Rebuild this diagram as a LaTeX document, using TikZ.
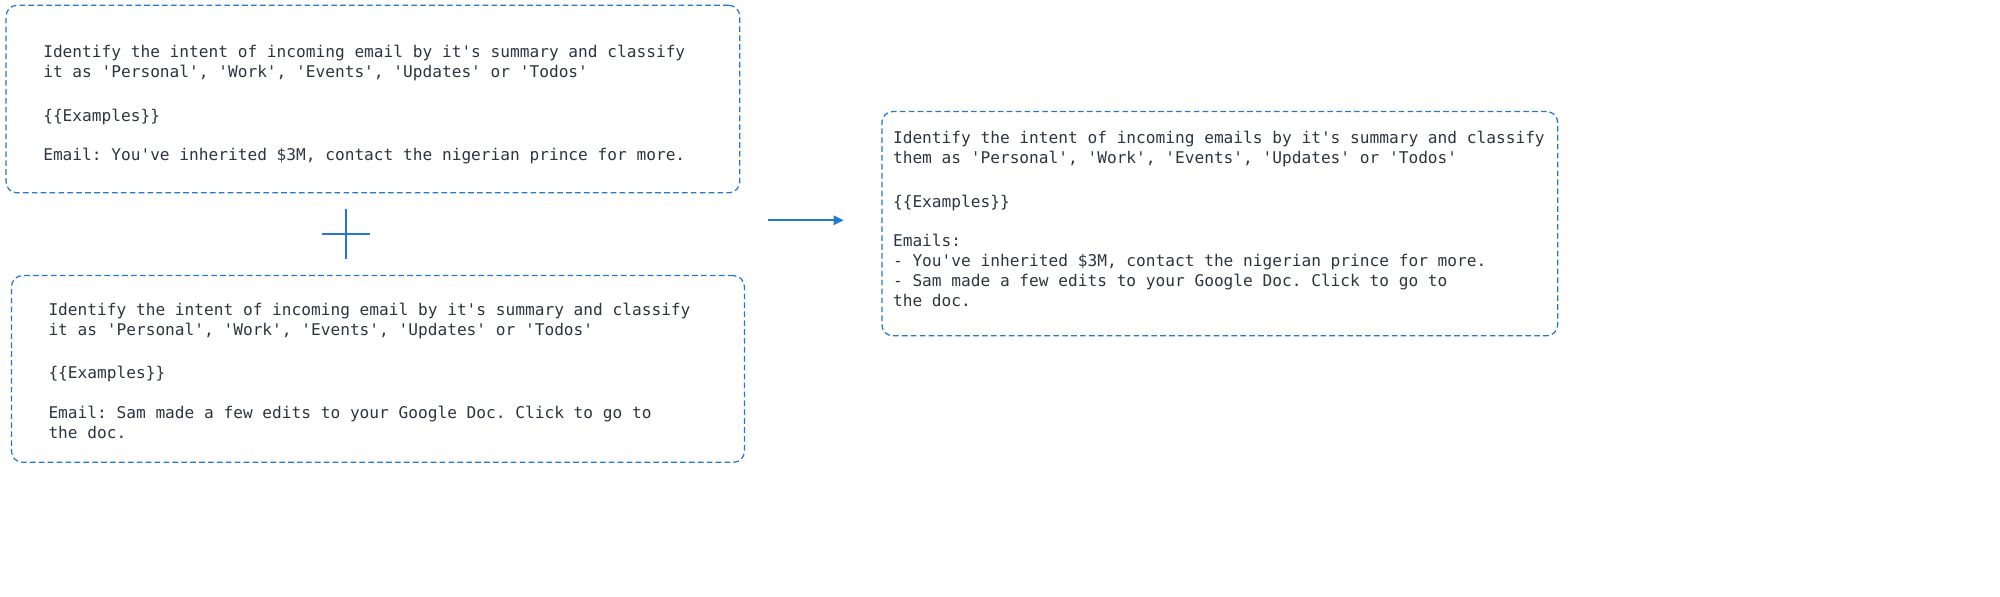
\documentclass[tikz,border=0pt]{standalone}
\usepackage{fontspec}
\setmonofont{DejaVu Sans Mono}
\usetikzlibrary{arrows.meta}
\definecolor{dblue}{RGB}{36,120,206}
\definecolor{txt}{RGB}{46,52,64}
\tikzset{
  box/.style={draw=dblue, line width=0.8pt, dash pattern=on 3.6pt off 2.1pt, rounded corners=7pt, inner sep=0pt, anchor=north west},
  ln/.style={anchor=base west, inner sep=0pt, text=txt, font=\ttfamily\fontsize{10.34}{12.75}\selectfont},
  conn/.style={draw=dblue, line width=1.2pt},
}
\begin{document}
\begin{tikzpicture}[x=0.5pt,y=-0.5pt]
\useasboundingbox (0,0) rectangle (2560,764);
% boxes
\node[box, minimum width=469.5pt, minimum height=120pt] (b1) at (7,6) {};
\node[box, minimum width=469pt, minimum height=119.5pt] (b2) at (14,352) {};
\node[box, minimum width=432.5pt, minimum height=143.5pt] (b3) at (1128,142) {};
% box 1 text
\node[ln] (a1) at (55,73.3) {Identify the intent of incoming email by it's summary and classify};
\node[ln] (a2) at (55,99) {it as 'Personal', 'Work', 'Events', 'Updates' or 'Todos'};
\node[ln] (a3) at (55,155) {\{\{Examples\}\}};
\node[ln] (a4) at (55,205) {Email: You've inherited \$3M, contact the nigerian prince for more.};
% box 2 text
\node[ln] (c1) at (61.7,404) {Identify the intent of incoming email by it's summary and classify};
\node[ln] (c2) at (61.7,429.5) {it as 'Personal', 'Work', 'Events', 'Updates' or 'Todos'};
\node[ln] (c3) at (61.7,485) {\{\{Examples\}\}};
\node[ln] (c4) at (61.7,536) {Email: Sam made a few edits to your Google Doc. Click to go to};
\node[ln] (c5) at (61.7,561) {the doc.};
% box 3 text
\node[ln] (d1) at (1142.7,184) {Identify the intent of incoming emails by it's summary and classify};
\node[ln] (d2) at (1142.7,209.5) {them as 'Personal', 'Work', 'Events', 'Updates' or 'Todos'};
\node[ln] (d3) at (1142.7,265) {\{\{Examples\}\}};
\node[ln] (d4) at (1142.7,315) {Emails:};
\node[ln] (d5) at (1142.7,341.5) {- You've inherited \$3M, contact the nigerian prince for more.};
\node[ln] (d6) at (1142.7,367) {- Sam made a few edits to your Google Doc. Click to go to};
\node[ln] (d7) at (1142.7,392.5) {the doc.};
% plus sign
\coordinate (pl) at (412,299);
\coordinate (pr) at (474,299);
\coordinate (pt) at (443,267);
\coordinate (pb) at (443,331);
\draw[conn, line width=1.3pt] (pl) -- (pr);
\draw[conn, line width=1.3pt] (pt) -- (pb);
% arrow
\coordinate (as) at (983,282);
\coordinate (ae) at (1080,282);
\draw[conn, -{Triangle[length=6.5pt,width=6pt]}] (as) -- (ae);
\end{tikzpicture}
\end{document}
